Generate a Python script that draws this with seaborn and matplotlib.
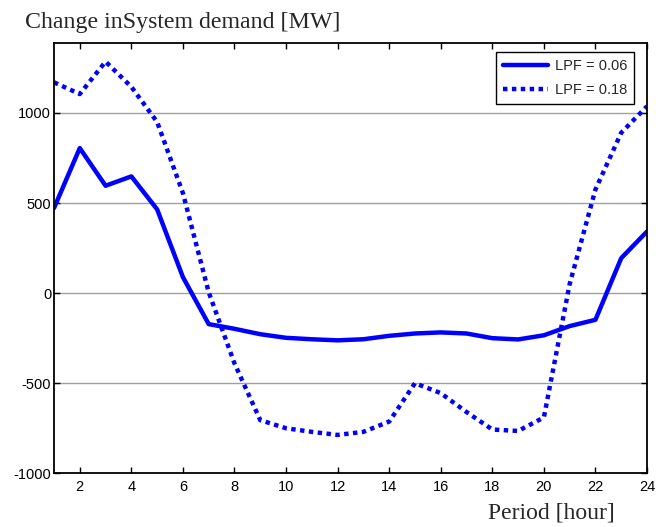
import matplotlib
matplotlib.use("Agg")
import matplotlib.pyplot as plt
import seaborn as sns
import pandas as pd

hours = list(range(1, 25))
lpf_006 = [472, 805, 596, 648, 465, 89, -172, -198, -228, -248, -256, -262,
           -256, -237, -224, -218, -224, -250, -257, -234, -183, -148, 194, 342]
lpf_018 = [1170, 1105, 1285, 1145, 950, 555, 5, -390, -705, -750, -770, -787,
           -770, -713, -500, -555, -660, -757, -765, -690, 50, 575, 890, 1037]
series_labels = ["LPF = 0.06", "LPF = 0.18"]
xticks = [2, 4, 6, 8, 10, 12, 14, 16, 18, 20, 22, 24]
yticks = [-1000, -500, 0, 500, 1000]

sns.set_style("white")
plt.rcParams["font.family"] = ["Liberation Sans", "DejaVu Sans"]
plt.rcParams["axes.unicode_minus"] = False

df = pd.DataFrame({
    "hour": hours * 2,
    "value": lpf_006 + lpf_018,
    "series": [series_labels[0]] * 24 + [series_labels[1]] * 24,
})

fig = plt.figure(figsize=(6.56, 5.27), dpi=100)
ax = fig.add_axes([54 / 656, 1 - 473.3 / 527, (647 - 54) / 656, (473.3 - 42.7) / 527])

for y in [-500, 0, 500, 1000]:
    ax.axhline(y, color="#a0a0a0", lw=1.0, zorder=0)

sns.lineplot(data=df[df.series == series_labels[0]], x="hour", y="value",
             color="#0000ff", lw=3.2, ax=ax, label=series_labels[0])
sns.lineplot(data=df[df.series == series_labels[1]], x="hour", y="value",
             color="#0000ff", lw=3.2, ax=ax, label=series_labels[1])
ax.lines[-1].set_dashes([1, 1])
ax.lines[-1].set_dash_capstyle("butt")

ax.set_xlim(1, 24)
ax.set_ylim(-1000, 1390)
ax.set_xticks(xticks)
ax.set_yticks(yticks)
ax.set_xlabel("")
ax.set_ylabel("")
ax.tick_params(axis="both", direction="in", length=4, width=1, colors="black",
               labelsize=10.5, top=True, right=True, bottom=True, left=True,
               labelcolor="black")
ax.tick_params(axis="x", pad=5)
ax.tick_params(axis="y", pad=2)
for s in ax.spines.values():
    s.set_color("black")
    s.set_linewidth(1.3)

leg = ax.legend(loc="upper right", bbox_to_anchor=(0.978, 0.978),
                fontsize=10.5, frameon=True, fancybox=False,
                edgecolor="black", handlelength=3.1, borderaxespad=0.0,
                borderpad=0.45, labelspacing=0.7, handletextpad=0.5)
leg.get_frame().set_linewidth(1.0)
leg.get_frame().set_alpha(1)
leg.get_lines()[1].set_dashes([1, 1])

fig.text(25 / 656, 1 - 28 / 527, "Change inSystem demand [MW]",
         family=["Liberation Serif", "DejaVu Serif"], fontsize=17.2,
         ha="left", va="baseline")
fig.text(551 / 656, 1 - 519 / 527, "Period [hour]",
         family=["Liberation Serif", "DejaVu Serif"], fontsize=17,
         ha="center", va="baseline")

fig.savefig("out.png", dpi=100)
